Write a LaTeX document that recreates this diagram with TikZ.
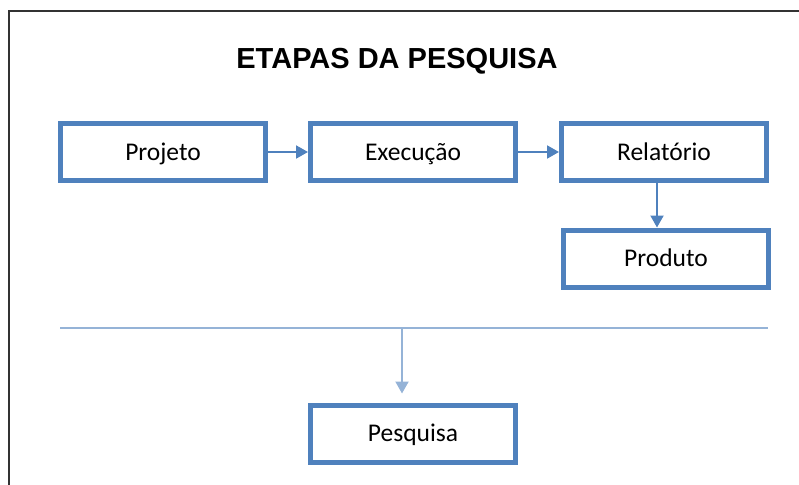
\documentclass[tikz,border=0pt]{standalone}
\usepackage{fontspec}
\setmainfont{Carlito}
\newfontfamily\titlefont{Liberation Sans}
\usetikzlibrary{arrows.meta}
\definecolor{boxblue}{HTML}{4F81BD}
\definecolor{lightblue}{HTML}{95B3D7}
\tikzset{
  stagebox/.style={draw=boxblue, line width=5pt, minimum width=205pt, minimum height=57pt,
    inner sep=0pt, text height=16.5pt, text depth=0pt, font=\fontsize{25.5}{30}\selectfont},
  arr/.style={draw=boxblue, line width=2pt, -{Triangle[length=12pt,width=13pt]}},
  lightarr/.style={draw=lightblue, line width=2pt, -{Triangle[length=12pt,width=13pt]}},
}
\begin{document}
\begin{tikzpicture}[x=1pt,y=-1pt]
\useasboundingbox (0,0) rectangle (799,484);
\draw[line width=1.5pt, black!80] (9,490) -- (9,11) -- (805,11);
\node[font=\titlefont\bfseries\fontsize{29}{32}\selectfont, text height=21pt, text depth=0pt, inner sep=0pt] (title) at (397,58) {ETAPAS DA PESQUISA};
\node[stagebox] (proj) at (163,152) {Projeto};
\node[stagebox] (exec) at (413,152) {Execução};
\node[stagebox] (rel) at (664,152) {Relatório};
\node[stagebox] (prod) at (666,258.5) {Produto};
\node[stagebox] (pesq) at (413,433.5) {Pesquisa};
\draw[arr] (proj) -- (exec);
\draw[arr] (exec) -- (rel);
\coordinate (ax) at (657,200);
\draw[arr] (rel.south -| ax) -- (prod.north -| ax);
\coordinate (hl) at (60,328);
\coordinate (hr) at (768,328);
\coordinate (split) at (402,328);
\draw[lightblue, line width=2pt] (hl) -- (hr);
\draw[lightarr, shorten >=9pt] (split) -- (split |- pesq.north);
\end{tikzpicture}
\end{document}
